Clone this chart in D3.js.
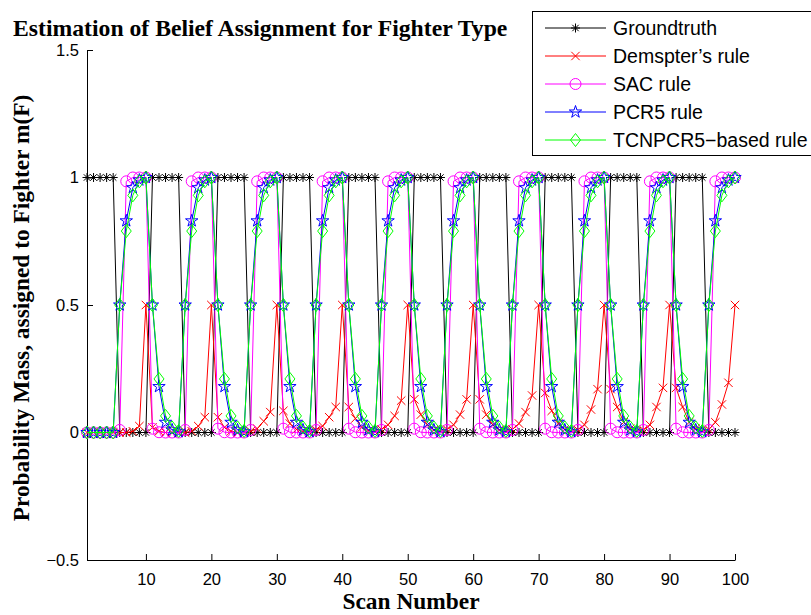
<!DOCTYPE html>
<html>
<head>
<meta charset="utf-8">
<script src="https://cdn.jsdelivr.net/npm/d3@7"></script>
<style>
  body { margin: 0; background: #fff; }
  svg { display: block; }
  .tick text { font-family: "Liberation Sans", Arial, Helvetica, sans-serif; }
</style>
</head>
<body>
<svg width="811" height="615"></svg>
<script>
// scan numbers on the x axis
var scans = d3.range(1, 101);

var groundtruth = [
  1, 1, 1, 1, 1, 0, 0, 0, 0, 0,
  1, 1, 1, 1, 1, 0, 0, 0, 0, 0,
  1, 1, 1, 1, 1, 0, 0, 0, 0, 0,
  1, 1, 1, 1, 1, 0, 0, 0, 0, 0,
  1, 1, 1, 1, 1, 0, 0, 0, 0, 0,
  1, 1, 1, 1, 1, 0, 0, 0, 0, 0,
  1, 1, 1, 1, 1, 0, 0, 0, 0, 0,
  1, 1, 1, 1, 1, 0, 0, 0, 0, 0,
  1, 1, 1, 1, 1, 0, 0, 0, 0, 0,
  1, 1, 1, 1, 1, 0, 0, 0, 0, 0
];

var dempster = [
  0, 0, 0, 0, 0, 0, 0, 0.005, 0.025, 0.5,
  0.02, 0.005, 0, 0, 0, 0, 0.005, 0.025, 0.06, 0.5,
  0.06, 0.02, 0.005, 0, 0, 0.005, 0.015, 0.044, 0.08, 0.5,
  0.085, 0.035, 0.012, 0.004, 0, 0.01, 0.025, 0.06, 0.1, 0.5,
  0.1, 0.055, 0.02, 0.007, 0.002, 0.012, 0.03, 0.065, 0.125, 0.5,
  0.13, 0.07, 0.03, 0.01, 0.003, 0.012, 0.03, 0.07, 0.13, 0.5,
  0.13, 0.07, 0.03, 0.01, 0.003, 0.012, 0.035, 0.08, 0.145, 0.5,
  0.155, 0.085, 0.035, 0.012, 0.004, 0.01, 0.03, 0.09, 0.17, 0.5,
  0.17, 0.1, 0.04, 0.015, 0.005, 0.01, 0.03, 0.1, 0.175, 0.5,
  0.175, 0.1, 0.04, 0.015, 0.005, 0.012, 0.04, 0.11, 0.195, 0.5
];

var sac = [
  0, 0, 0, 0, 0, 0.01, 0.985, 1, 1, 1,
  0.015, 0.001, 0, 0, 0, 0.01, 0.985, 1, 1, 1,
  0.015, 0.001, 0, 0, 0, 0.01, 0.985, 1, 1, 1,
  0.015, 0.001, 0, 0, 0, 0.01, 0.985, 1, 1, 1,
  0.015, 0.001, 0, 0, 0, 0.01, 0.985, 1, 1, 1,
  0.015, 0.001, 0, 0, 0, 0.01, 0.985, 1, 1, 1,
  0.015, 0.001, 0, 0, 0, 0.01, 0.985, 1, 1, 1,
  0.015, 0.001, 0, 0, 0, 0.01, 0.985, 1, 1, 1,
  0.015, 0.001, 0, 0, 0, 0.01, 0.985, 1, 1, 1,
  0.015, 0.001, 0, 0, 0, 0.01, 0.985, 1, 1, 1
];

var pcr5 = [
  0, 0, 0, 0, 0, 0.5, 0.83, 0.96, 0.99, 1,
  0.5, 0.18, 0.04, 0.01, 0.003, 0.5, 0.83, 0.96, 0.99, 1,
  0.5, 0.18, 0.04, 0.01, 0.003, 0.5, 0.83, 0.96, 0.99, 1,
  0.5, 0.18, 0.04, 0.01, 0.003, 0.5, 0.83, 0.96, 0.99, 1,
  0.5, 0.18, 0.04, 0.01, 0.003, 0.5, 0.83, 0.96, 0.99, 1,
  0.5, 0.18, 0.04, 0.01, 0.003, 0.5, 0.83, 0.96, 0.99, 1,
  0.5, 0.18, 0.04, 0.01, 0.003, 0.5, 0.83, 0.96, 0.99, 1,
  0.5, 0.18, 0.04, 0.01, 0.003, 0.5, 0.83, 0.96, 0.99, 1,
  0.5, 0.18, 0.04, 0.01, 0.003, 0.5, 0.83, 0.96, 0.99, 1,
  0.5, 0.18, 0.04, 0.01, 0.003, 0.5, 0.83, 0.96, 0.99, 1
];

var tcnpcr5 = [
  0, 0, 0, 0, 0, 0.5, 0.79, 0.93, 0.985, 1,
  0.5, 0.21, 0.065, 0.02, 0.006, 0.5, 0.79, 0.93, 0.985, 1,
  0.5, 0.21, 0.065, 0.02, 0.006, 0.5, 0.79, 0.93, 0.985, 1,
  0.5, 0.21, 0.065, 0.02, 0.006, 0.5, 0.79, 0.93, 0.985, 1,
  0.5, 0.21, 0.065, 0.02, 0.006, 0.5, 0.79, 0.93, 0.985, 1,
  0.5, 0.21, 0.065, 0.02, 0.006, 0.5, 0.79, 0.93, 0.985, 1,
  0.5, 0.21, 0.065, 0.02, 0.006, 0.5, 0.79, 0.93, 0.985, 1,
  0.5, 0.21, 0.065, 0.02, 0.006, 0.5, 0.79, 0.93, 0.985, 1,
  0.5, 0.21, 0.065, 0.02, 0.006, 0.5, 0.79, 0.93, 0.985, 1,
  0.5, 0.21, 0.065, 0.02, 0.006, 0.5, 0.79, 0.93, 0.985, 1
];

var xTicks = [10, 20, 30, 40, 50, 60, 70, 80, 90, 100];
var yTicks = [-0.5, 0, 0.5, 1, 1.5];

var series = [
  { name: "Groundtruth", values: groundtruth, color: "#000000", marker: "star" },
  { name: "Demspter\u2019s rule", values: dempster, color: "#ff0000", marker: "x" },
  { name: "SAC rule", values: sac, color: "#ff00ff", marker: "circle" },
  { name: "PCR5 rule", values: pcr5, color: "#0000ff", marker: "pentagram" },
  { name: "TCNPCR5\u2212based rule", values: tcnpcr5, color: "#00ff00", marker: "diamond" }
];

var svg = d3.select("svg"),
  plotLeft = 87, plotRight = 735, plotTop = 50, plotBottom = 560;

var x = d3.scaleLinear().domain([1, 100]).range([plotLeft, plotRight]);
var y = d3.scaleLinear().domain([-0.5, 1.5]).range([plotBottom, plotTop]);

// marker shapes, drawn as outlines around (0,0)
function markerPath(type) {
  var p = d3.path();
  if (type === "star") {
    var s = 4.5, d = 3.2;
    p.moveTo(-s, 0); p.lineTo(s, 0);
    p.moveTo(0, -s); p.lineTo(0, s);
    p.moveTo(-d, -d); p.lineTo(d, d);
    p.moveTo(-d, d); p.lineTo(d, -d);
  } else if (type === "x") {
    var k = 4.2;
    p.moveTo(-k, -k); p.lineTo(k, k);
    p.moveTo(-k, k); p.lineTo(k, -k);
  } else if (type === "circle") {
    p.moveTo(5.5, 0); p.arc(0, 0, 5.5, 0, 2 * Math.PI);
  } else if (type === "diamond") {
    p.moveTo(0, -6.5); p.lineTo(5, 0); p.lineTo(0, 6.5); p.lineTo(-5, 0); p.closePath();
  } else if (type === "pentagram") {
    var R = 6.5, r = R * 0.382;
    for (var i = 0; i < 10; i++) {
      var a = -Math.PI / 2 + i * Math.PI / 5, rr = i % 2 ? r : R;
      if (i === 0) p.moveTo(rr * Math.cos(a), rr * Math.sin(a));
      else p.lineTo(rr * Math.cos(a), rr * Math.sin(a));
    }
    p.closePath();
  }
  return p.toString();
}

// axes: ticks point inward, no box
var xAxis = d3.axisBottom(x).tickValues(xTicks).tickSizeInner(-6).tickSizeOuter(0).tickPadding(13);
var yAxis = d3.axisLeft(y).tickValues(yTicks).tickSizeInner(-6).tickSizeOuter(0).tickPadding(8)
  .tickFormat(function (d) { return (d < 0 ? "\u2212" : "") + Math.abs(d); });

var gx = svg.append("g").attr("transform", "translate(0," + plotBottom + ")").call(xAxis);
var gy = svg.append("g").attr("transform", "translate(" + plotLeft + ",0)").call(yAxis);
[gx, gy].forEach(function (g) {
  g.selectAll("text").attr("font-size", 16.5).attr("fill", "#000");
  g.selectAll("line,path").attr("stroke", "#000");
});

var line = d3.line()
  .x(function (d, i) { return x(scans[i]); })
  .y(function (d) { return y(d); });

series.forEach(function (s) {
  var g = svg.append("g");
  g.append("path")
    .attr("d", line(s.values))
    .attr("fill", "none")
    .attr("stroke", s.color)
    .attr("stroke-width", 1);
  g.selectAll(".m")
    .data(s.values)
    .enter().append("path")
    .attr("class", "m")
    .attr("d", markerPath(s.marker))
    .attr("transform", function (d, i) { return "translate(" + x(scans[i]) + "," + y(d) + ")"; })
    .attr("fill", "none")
    .attr("stroke", s.color)
    .attr("stroke-width", 1);
});

// titles
svg.append("text")
  .attr("x", 13).attr("y", 36)
  .attr("font-family", "'Liberation Serif', 'Times New Roman', serif")
  .attr("font-weight", "bold").attr("font-size", 23.7)
  .text("Estimation of Belief Assignment for Fighter Type");

svg.append("text")
  .attr("x", 411).attr("y", 609)
  .attr("text-anchor", "middle")
  .attr("font-family", "'Liberation Serif', 'Times New Roman', serif")
  .attr("font-weight", "bold").attr("font-size", 23.4)
  .text("Scan Number");

svg.append("text")
  .attr("transform", "translate(29,308) rotate(-90)")
  .attr("text-anchor", "middle")
  .attr("font-family", "'Liberation Serif', 'Times New Roman', serif")
  .attr("font-weight", "bold").attr("font-size", 23.4)
  .text("Probability Mass, assigned to Fighter m(F)");

// legend
var legend = svg.append("g");
legend.append("rect")
  .attr("x", 532.5).attr("y", 11.5).attr("width", 290).attr("height", 144)
  .attr("fill", "#fff").attr("stroke", "#000").attr("stroke-width", 1);

series.forEach(function (s, i) {
  var ly = 28 + i * 28;
  legend.append("line")
    .attr("x1", 545).attr("x2", 606).attr("y1", ly).attr("y2", ly)
    .attr("stroke", s.color).attr("stroke-width", 1);
  legend.append("path")
    .attr("d", markerPath(s.marker))
    .attr("transform", "translate(575.5," + ly + ")")
    .attr("fill", "none").attr("stroke", s.color).attr("stroke-width", 1);
  legend.append("text")
    .attr("x", 613).attr("y", ly).attr("dy", "0.35em")
    .attr("font-family", "'Liberation Sans', Arial, Helvetica, sans-serif")
    .attr("font-size", 19.5)
    .text(s.name);
});
</script>
</body>
</html>
